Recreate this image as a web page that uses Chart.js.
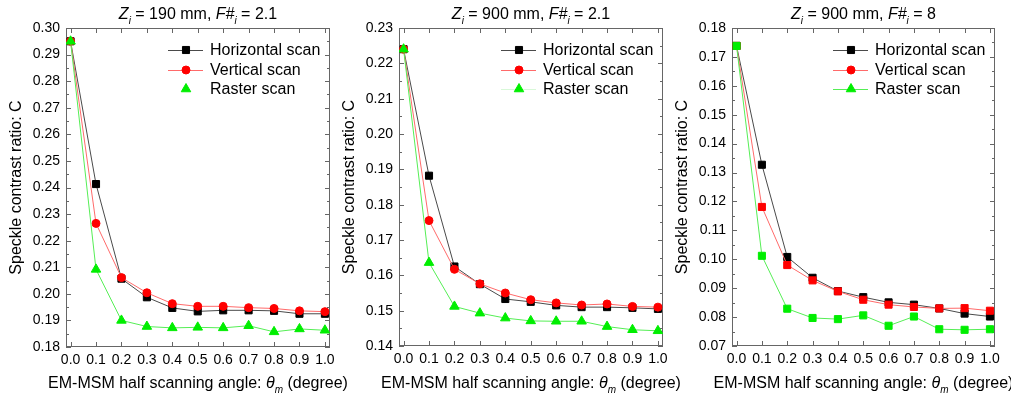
<!DOCTYPE html>
<html>
<head>
<meta charset="utf-8">
<script src="https://cdn.jsdelivr.net/npm/chart.js@4.4.0/dist/chart.umd.min.js"></script>
<style>
html, body { margin: 0; padding: 0; background: #fff; }
#wrap { position: relative; width: 1011px; height: 397px; }
#wrap canvas { position: absolute; left: 0; top: 0; }
</style>
</head>
<body>
<div id="wrap">
  <canvas id="c1" width="1011" height="397"></canvas>
  <canvas id="c2" width="1011" height="397"></canvas>
  <canvas id="c3" width="1011" height="397"></canvas>
</div>
<script>
// scanning half angle (degree)
const angles = [0.0, 0.1, 0.2, 0.3, 0.4, 0.5, 0.6, 0.7, 0.8, 0.9, 1.0];
const xTicks = [0.0, 0.1, 0.2, 0.3, 0.4, 0.5, 0.6, 0.7, 0.8, 0.9, 1.0];

// Zi = 190 mm, F#i = 2.1
const horiz190 = [0.295, 0.2413, 0.2057, 0.1987, 0.1947, 0.1934, 0.1938, 0.1938, 0.1936, 0.1925, 0.1925];
const vert190 = [0.295, 0.2265, 0.2061, 0.2004, 0.1963, 0.1953, 0.1953, 0.1948, 0.1945, 0.1936, 0.1933];
const raster190 = [0.295, 0.2092, 0.1900, 0.1877, 0.1872, 0.1874, 0.1872, 0.1880, 0.1857, 0.1868, 0.1863];
const yTicks190 = [0.18, 0.19, 0.20, 0.21, 0.22, 0.23, 0.24, 0.25, 0.26, 0.27, 0.28, 0.29, 0.30];

// Zi = 900 mm, F#i = 2.1
const horiz900 = [0.224, 0.1882, 0.1625, 0.1575, 0.1533, 0.1525, 0.1515, 0.1510, 0.1510, 0.1508, 0.1505];
const vert900 = [0.224, 0.1755, 0.1617, 0.1576, 0.1550, 0.1531, 0.1522, 0.1516, 0.1519, 0.1512, 0.1510];
const raster900 = [0.224, 0.1636, 0.1512, 0.1493, 0.1479, 0.1471, 0.1470, 0.1470, 0.1455, 0.1446, 0.1443];
const yTicks900 = [0.14, 0.15, 0.16, 0.17, 0.18, 0.19, 0.20, 0.21, 0.22, 0.23];

// Zi = 900 mm, F#i = 8
const horizF8 = [0.1738, 0.1327, 0.1008, 0.0936, 0.0890, 0.0869, 0.0851, 0.0843, 0.0830, 0.0812, 0.0802];
const vertF8 = [0.1738, 0.1181, 0.0980, 0.0927, 0.0889, 0.0860, 0.0843, 0.0835, 0.0830, 0.0831, 0.0822];
const rasterF8 = [0.1738, 0.1012, 0.0829, 0.0797, 0.0793, 0.0806, 0.0770, 0.0802, 0.0758, 0.0756, 0.0758];
const yTicksF8 = [0.07, 0.08, 0.09, 0.10, 0.11, 0.12, 0.13, 0.14, 0.15, 0.16, 0.17, 0.18];

const seriesNames = ['Horizontal scan', 'Vertical scan', 'Raster scan'];

const FONT = '"Liberation Sans", Arial, sans-serif';
const W = 1011, H = 397;

function fontFor(s, size) {
    return (s.it ? 'italic ' : '') + (s.sub ? Math.round(size * 0.65) : size) + 'px ' + FONT;
}

function drawRich(ctx, segs, cx, baseY, size) {
    let w = 0;
    segs.forEach(s => { ctx.font = fontFor(s, size); w += ctx.measureText(s.t).width; });
    let xx = cx - w / 2;
    ctx.textAlign = 'left';
    ctx.textBaseline = 'alphabetic';
    segs.forEach(s => {
        ctx.font = fontFor(s, size);
        ctx.fillText(s.t, xx, baseY + (s.sub ? size * 0.32 : 0));
        xx += ctx.measureText(s.t).width;
    });
}

const xTitle = [
    {t: 'EM-MSM half scanning angle: '},
    {t: '\u03B8', it: true},
    {t: 'm', it: true, sub: true},
    {t: ' (degree)'}
];

function titleSegs(z, f) {
    return [
        {t: 'Z', it: true}, {t: 'i', it: true, sub: true},
        {t: ' = ' + z + ' mm, '},
        {t: 'F#', it: true}, {t: 'i', it: true, sub: true},
        {t: ' = ' + f}
    ];
}

const frame = {
    id: 'frame',
    beforeDatasetsDraw(chart) {
        const {ctx, chartArea: a, scales: {x, y}} = chart;
        ctx.save();
        ctx.strokeStyle = '#666';
        ctx.lineWidth = 1;
        ctx.strokeRect(a.left + 0.5, a.top + 0.5, a.right - a.left - 1, a.bottom - a.top - 1);
        ctx.beginPath();
        x.ticks.forEach(t => {
            const px = Math.round(x.getPixelForValue(t.value)) + 0.5;
            ctx.moveTo(px, a.bottom); ctx.lineTo(px, a.bottom - 5);
            ctx.moveTo(px, a.top); ctx.lineTo(px, a.top + 5);
        });
        y.ticks.forEach((t, i) => {
            let py = Math.round(y.getPixelForValue(t.value)) + 0.5;
            ctx.moveTo(a.left, py); ctx.lineTo(a.left + 5, py);
            ctx.moveTo(a.right, py); ctx.lineTo(a.right - 5, py);
            if (i < y.ticks.length - 1) {
                const mid = (t.value + y.ticks[i + 1].value) / 2;
                py = Math.round(y.getPixelForValue(mid)) + 0.5;
                ctx.moveTo(a.left, py); ctx.lineTo(a.left + 3, py);
                ctx.moveTo(a.right, py); ctx.lineTo(a.right - 3, py);
            }
        });
        ctx.stroke();
        ctx.restore();
    },
    afterDraw(chart, args, o) {
        const {ctx, chartArea: a} = chart;
        ctx.save();
        ctx.fillStyle = '#000';
        const cx = (a.left + a.right) / 2;
        drawRich(ctx, o.title, cx, 19, 16);
        drawRich(ctx, xTitle, cx, 388, 16);
        // y title
        ctx.save();
        ctx.translate(a.left - 45, (a.top + a.bottom) / 2);
        ctx.rotate(-Math.PI / 2);
        ctx.font = '16px ' + FONT;
        ctx.textAlign = 'center';
        ctx.textBaseline = 'alphabetic';
        ctx.fillText('Speckle contrast ratio: C', 0, 0);
        ctx.restore();
        // legend
        const rows = [a.top + 22, a.top + 42, a.top + 61];
        chart.data.datasets.forEach((ds, i) => {
            const ry = rows[i];
            const lc = o.legendLines[i];
            if (lc) {
                ctx.strokeStyle = lc;
                ctx.lineWidth = 1;
                ctx.beginPath();
                ctx.moveTo(a.right - 162, ry + 0.5);
                ctx.lineTo(a.right - 127, ry + 0.5);
                ctx.stroke();
            }
            ctx.fillStyle = ds.pointBackgroundColor;
            ctx.strokeStyle = ds.pointBorderColor;
            Chart.helpers.drawPoint(ctx, {
                pointStyle: o.legendMarkers[i],
                radius: o.legendMarkers[i] === 'circle' ? 4 : (o.legendMarkers[i] === 'triangle' ? 5.5 : 5),
                rotation: 0,
                borderWidth: 1
            }, a.right - 144, ry);
            ctx.fillStyle = '#000';
            ctx.font = '16px ' + FONT;
            ctx.textAlign = 'left';
            ctx.textBaseline = 'middle';
            ctx.fillText(ds.label, a.right - 120, ry + 1);
        });
        ctx.restore();
    }
};

const lineColors = ['#4a4a4a', '#ff6a6a', '#55ee55'];
const markColors = ['#000000', '#ff0000', '#00ee00'];

function makeChart(id, p) {
    const ds = p.series.map((vals, i) => ({
        label: seriesNames[i],
        data: angles.map((a, k) => ({x: a, y: vals[k]})),
        showLine: true,
        borderColor: lineColors[i],
        borderWidth: 1,
        pointStyle: p.markers[i],
        pointRadius: p.markers[i] === 'circle' ? 4 : (p.markers[i] === 'triangle' ? 5.5 : 5),
        pointBackgroundColor: markColors[i],
        pointBorderColor: markColors[i],
        pointBorderWidth: 1,
        tension: 0,
        order: 3 - i
    }));
    const yt = p.yTicks;
    return new Chart(document.getElementById(id).getContext('2d'), {
        type: 'scatter',
        data: {datasets: ds},
        options: {
            responsive: false,
            animation: false,
            events: [],
            layout: {padding: {left: p.left - 60, right: W - p.right, top: p.top, bottom: 0}},
            plugins: {
                legend: {display: false},
                tooltip: {enabled: false},
                frame: {title: p.title, legendLines: p.legendLines, legendMarkers: p.legendMarkers}
            },
            scales: {
                x: {
                    type: 'linear',
                    min: -0.018,
                    max: 1.02,
                    grid: {display: false, drawTicks: false},
                    border: {display: false},
                    afterFit: s => { s.height = H - p.bottom; },
                    afterBuildTicks: s => { s.ticks = xTicks.map(v => ({value: v})); },
                    ticks: {
                        autoSkip: false, maxRotation: 0, minRotation: 0, padding: 5,
                        color: '#000', font: {family: FONT, size: 14},
                        callback: v => v.toFixed(1)
                    }
                },
                y: {
                    type: 'linear',
                    min: yt[0],
                    max: yt[yt.length - 1],
                    grid: {display: false, drawTicks: false},
                    border: {display: false},
                    afterFit: s => { s.width = 60; },
                    afterBuildTicks: s => { s.ticks = yt.map(v => ({value: v})); },
                    ticks: {
                        padding: 6, color: '#000', font: {family: FONT, size: 14},
                        callback: v => v.toFixed(2)
                    }
                }
            }
        },
        plugins: [frame]
    });
}

makeChart('c1', {
    left: 66, right: 330, top: 28, bottom: 347,
    series: [horiz190, vert190, raster190],
    yTicks: yTicks190,
    markers: ['rect', 'circle', 'triangle'],
    legendMarkers: ['rect', 'circle', 'triangle'],
    legendLines: ['#4a4a4a', '#ff6a6a', null],
    title: titleSegs('190', '2.1')
});
makeChart('c2', {
    left: 399, right: 663, top: 28, bottom: 346,
    series: [horiz900, vert900, raster900],
    yTicks: yTicks900,
    markers: ['rect', 'circle', 'triangle'],
    legendMarkers: ['rect', 'circle', 'triangle'],
    legendLines: ['#4a4a4a', '#ff6a6a', '#d8f8d8'],
    title: titleSegs('900', '2.1')
});
makeChart('c3', {
    left: 732, right: 995, top: 28, bottom: 346,
    series: [horizF8, vertF8, rasterF8],
    yTicks: yTicksF8,
    markers: ['rect', 'rect', 'rect'],
    legendMarkers: ['rect', 'circle', 'triangle'],
    legendLines: ['#4a4a4a', '#ff6a6a', '#55ee55'],
    title: titleSegs('900', '8')
});
</script>
</body>
</html>
